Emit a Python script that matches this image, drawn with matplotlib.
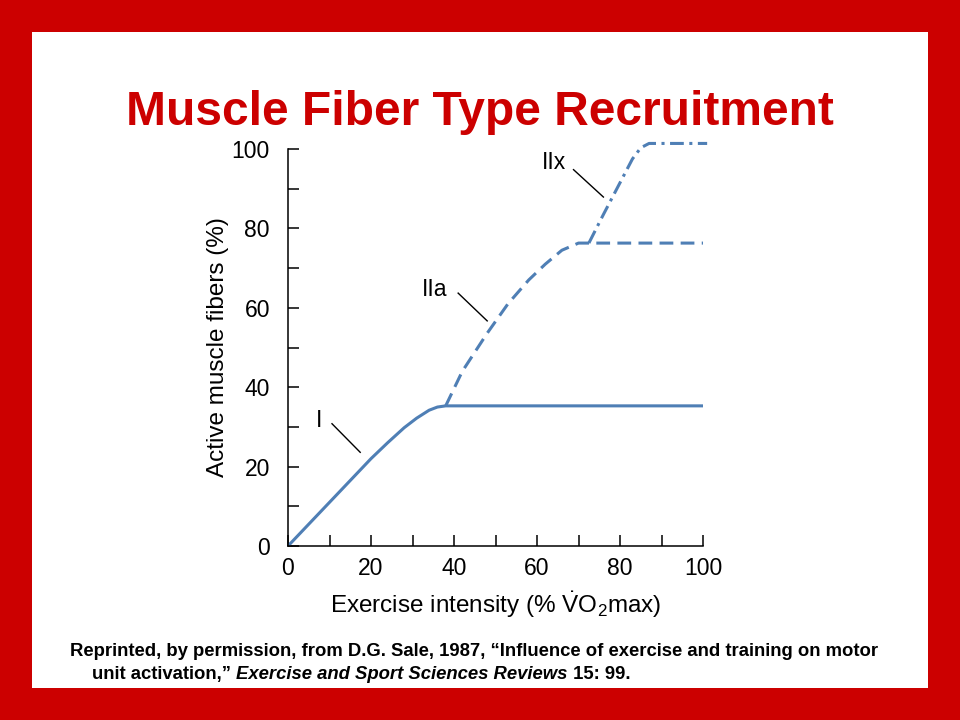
import matplotlib
matplotlib.use("Agg")
import matplotlib.pyplot as plt
from matplotlib.patches import Rectangle

plt.rcParams['font.family'] = ['Liberation Sans', 'DejaVu Sans']
plt.rcParams['mathtext.fontset'] = 'custom'
plt.rcParams['mathtext.rm'] = 'Liberation Sans'
plt.rcParams['mathtext.it'] = 'Liberation Sans:italic'

"""Data read off the figure"""
type1_x = [0, 5, 10, 15, 20, 24, 28, 31, 34, 36, 38, 100]
type1_y = [0, 5.5, 11, 16.5, 22, 26, 29.8, 32.2, 34.2, 35.0, 35.3, 35.3]

type2a_x = [38, 42, 48, 53, 58, 62, 66, 70, 100]
type2a_y = [35.3, 44, 53.6, 61, 67, 71, 74.5, 76.3, 76.3]

type2x_x = [72.5, 76, 80, 83, 85, 87, 101]
type2x_y = [76.3, 83.5, 91.5, 97.5, 100.3, 101.4, 101.4]

ticks_major = [0, 20, 40, 60, 80, 100]
ticks_minor = [10, 30, 50, 70, 90]

# label, text position, leader line start, leader line end
labels = [("I", (7.4, 31.7), (10.6, 30.8), (17.4, 23.6)),
          ("IIa", (35.4, 64.7), (41.0, 63.7), (48.0, 56.7)),
          ("IIx", (64.0, 96.5), (68.8, 94.8), (76.0, 87.9))]

red = "#cc0000"
blue = "#4f7fb5"

fig = plt.figure(figsize=(9.6, 7.2), dpi=100)
fig.patch.set_facecolor(red)
fig.patches.append(Rectangle((32/960, 1 - 688/720), (928-32)/960, (688-32)/720,
                             transform=fig.transFigure, facecolor="white",
                             edgecolor="none", zorder=-10))

fig.text(0.5, 1 - 125/720, "Muscle Fiber Type Recruitment", ha="center",
         va="baseline", fontsize=34.5, fontweight="bold", color=red)

ax = fig.add_axes([288/960, 1 - 546/720, (703-288)/960, (546-149)/720])
ax.set_facecolor("none")
ax.plot(type1_x, type1_y, color=blue, lw=2.2, solid_capstyle="butt")
ax.plot(type2a_x, type2a_y, color=blue, lw=2.2, dashes=(4.5, 2.4))
ax.plot(type2x_x, type2x_y, color=blue, lw=2.2, dashes=(4.5, 1.8, 1, 1.8),
        clip_on=False)

for name, pos, p0, p1 in labels:
    ax.text(pos[0], pos[1], name, ha="center", va="center", fontsize=16.5)
    ax.plot([p0[0], p1[0]], [p0[1], p1[1]], color="black", lw=1)

ax.set_xlim(0, 100)
ax.set_ylim(0, 100)
ax.spines["top"].set_visible(False)
ax.spines["right"].set_visible(False)
for s in ["left", "bottom"]:
    ax.spines[s].set_linewidth(1.1)
ax.set_xticks(ticks_major)
ax.set_xticks(ticks_minor, minor=True)
ax.set_yticks(ticks_major)
ax.set_yticks(ticks_minor, minor=True)
ax.tick_params(which="both", direction="in", length=8, width=1.1)
ax.tick_params(axis="x", which="major", labelsize=16.5, pad=8)
ax.tick_params(axis="y", which="major", labelsize=16.5, pad=13)

ax.set_xlabel(r"Exercise intensity (% $\mathrm{\dot{V}O_2}$max)", fontsize=17.5, labelpad=7)
ax.set_ylabel("Active muscle fibers (%)", fontsize=17.5, labelpad=2)

# footnote, pieces chained so the italic part follows on
fn = dict(fontsize=13.3, fontweight="bold")
fig.text(70/960, 1 - 660/720,
         "Reprinted, by permission, from D.G. Sale, 1987, \u201cInfluence of exercise and training on motor",
         va="bottom", **fn)
t1 = fig.text(92/960, 1 - 683/720, "unit activation,\u201d ", va="bottom", **fn)
t2 = ax.annotate("Exercise and Sport Sciences Reviews", xy=(1, 0), xycoords=t1,
                 va="bottom", ha="left", style="italic", annotation_clip=False, **fn)
ax.annotate(" 15: 99.", xy=(1, 0), xycoords=t2, va="bottom", ha="left",
            annotation_clip=False, **fn)

fig.savefig("out.png", dpi=100, facecolor=fig.get_facecolor())
